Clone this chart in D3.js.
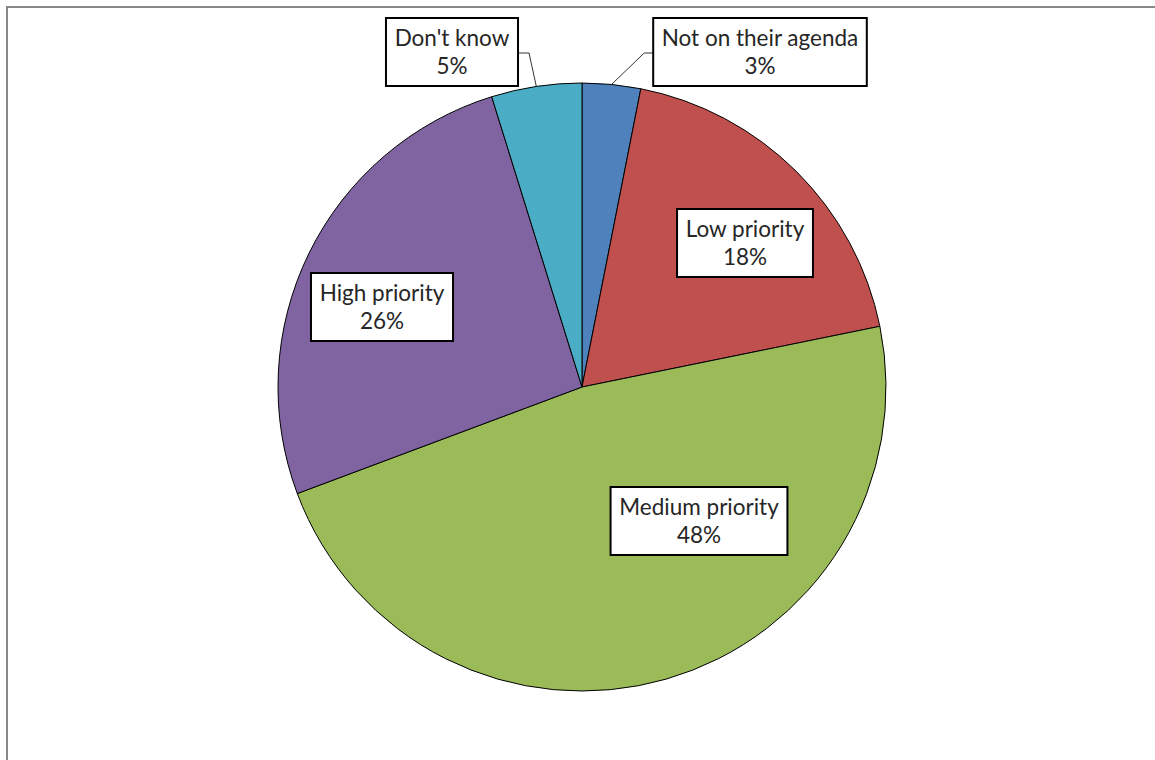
<!DOCTYPE html>
<html>
<head>
<meta charset="utf-8">
<script src="https://cdn.jsdelivr.net/npm/d3@7"></script>
<style>
  body { margin: 0; background: #fff; }
</style>
</head>
<body>
<div class="canvas"></div>
<script>
// data
const categories = ['Not on their agenda', 'Low priority', 'Medium priority', 'High priority', "Don't know"];
const values = [3.1, 18.7, 47.5, 25.9, 4.8];
const labels = ['3%', '18%', '48%', '26%', '5%'];
const colors = ['#4f81bd', '#c0504d', '#9bbb59', '#8064a2', '#4bacc6'];

// label box centres, relative to pie centre (best-fit placement)
const labelPos = [[178, -335], [163, -144], [117, 134], [-200, -80], [-130, -335]];

const dims = { width: 1155, height: 760, cx: 582, cy: 387, r: 304, font: 'Lato, "Open Sans", sans-serif' };

const svg = d3.select('.canvas').append('svg')
  .attr('width', dims.width)
  .attr('height', dims.height);

// chart area border
svg.append('rect')
  .attr('x', 7).attr('y', 7)
  .attr('width', dims.width + 10).attr('height', dims.height + 10)
  .attr('fill', 'none')
  .attr('stroke', '#888')
  .attr('stroke-width', 2);

const graph = svg.append('g')
  .attr('transform', `translate(${dims.cx}, ${dims.cy})`);

const pie = d3.pie().sort(null).value((d) => d.value);
const arc = d3.arc().innerRadius(0).outerRadius(dims.r);
const rows = categories.map((c, i) => ({ key: c, value: values[i], label: labels[i], color: colors[i], pos: labelPos[i] }));
const arcs = pie(rows);

graph.selectAll('path.slice')
  .data(arcs)
  .enter()
  .append('path')
  .attr('class', 'slice')
  .attr('d', arc)
  .attr('fill', (d) => d.data.color)
  .attr('stroke', '#000')
  .attr('stroke-width', 1);

const leaders = graph.append('g');

// label boxes
const lab = graph.selectAll('g.label')
  .data(arcs)
  .enter()
  .append('g')
  .attr('class', 'label')
  .attr('transform', (d) => `translate(${d.data.pos[0]}, ${d.data.pos[1]})`);

lab.append('text')
  .attr('text-anchor', 'middle')
  .attr('font-family', dims.font)
  .attr('font-size', 22.5)
  .attr('fill', '#262626')
  .selectAll('tspan')
  .data((d) => [d.data.key, d.data.label])
  .enter()
  .append('tspan')
  .attr('x', 0)
  .attr('y', (d, i) => (i === 0 ? -6 : 22))
  .text((d) => d);

lab.each(function (d) {
  const g = d3.select(this);
  const bb = g.select('text').node().getBBox();
  d.boxW = bb.width + 17;
  g.insert('rect', 'text')
    .attr('x', -d.boxW / 2)
    .attr('y', -34)
    .attr('width', d.boxW)
    .attr('height', 68)
    .attr('fill', '#fff')
    .attr('stroke', '#000')
    .attr('stroke-width', 2);
});

// leader lines for the two small slices labelled outside the pie
[0, 4].forEach((i) => {
  const a = arcs[i];
  const mid = (a.startAngle + a.endAngle) / 2;
  const px = Math.sin(mid) * dims.r, py = -Math.cos(mid) * dims.r;
  const bx = a.data.pos[0], by = a.data.pos[1] + 1;
  const edgeX = i === 0 ? bx - a.boxW / 2 : bx + a.boxW / 2;
  const elbowX = i === 0 ? edgeX - 9 : edgeX + 11;
  leaders.append('polyline')
    .attr('points', [[px, py], [elbowX, by], [edgeX, by]].map((p) => p.join(',')).join(' '))
    .attr('fill', 'none')
    .attr('stroke', '#000')
    .attr('stroke-width', 0.8);
});
</script>
</body>
</html>
